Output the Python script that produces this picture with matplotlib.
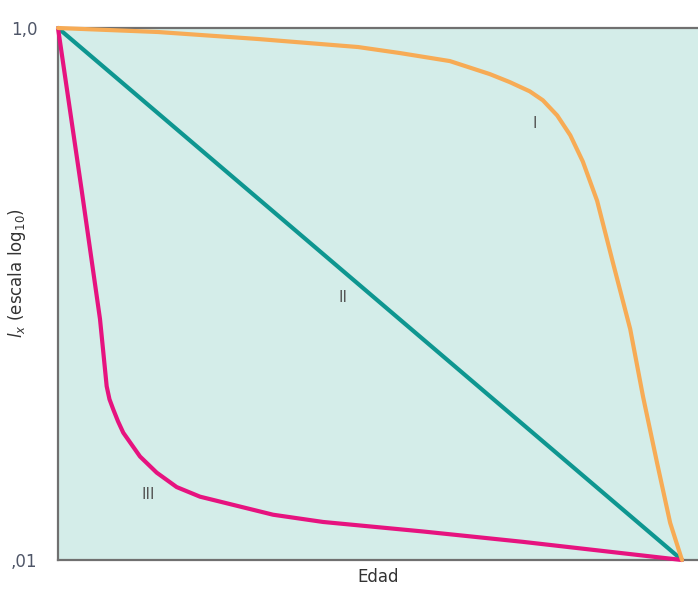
import matplotlib
matplotlib.use("Agg")
import matplotlib.pyplot as plt

# Data (age as % of max lifespan, lx on log scale)
age_I = [0, 16.0, 32.1, 48.1, 54.8, 62.8, 69.2, 72.4, 75.6, 77.7, 80.0, 82.1, 84.1, 86.4, 88.9, 91.7, 93.75, 96.0, 98.1, 100]
lx_I = [1.0, 0.966, 0.909, 0.848, 0.805, 0.751, 0.671, 0.626, 0.578, 0.535, 0.469, 0.395, 0.315, 0.224, 0.132, 0.0738, 0.0412, 0.0232, 0.0138, 0.01]

age_II = [0, 100]
lx_II = [1.0, 0.01]

age_III = [0, 3.80, 6.73, 7.26, 7.80, 8.25, 8.86, 9.62, 10.46, 13.14, 15.82, 19.02, 22.76, 34.46, 42.47, 58.49, 74.52, 90.54, 100]
lx_III = [1.0, 0.245, 0.0805, 0.0604, 0.0450, 0.0402, 0.0368, 0.0332, 0.0301, 0.0245, 0.0213, 0.0188, 0.0173, 0.0148, 0.0139, 0.0128, 0.0117, 0.0106, 0.01]

labels = ["I", "II", "III"]
label_pos = [(76.4, 0.438), (45.7, 0.0974), (14.4, 0.0176)]
yticks = [0.01, 1.0]
yticklabels = [",01", "1,0"]

fig = plt.figure(figsize=(6.98, 5.93), dpi=100)
ax = fig.add_axes([58/698, 1-560/593, 1-58/698, (560-28)/593])
ax.set_facecolor("#d4ede9")

kw = dict(lw=3.0, solid_joinstyle="round", solid_capstyle="round", zorder=3, clip_on=False)
ax.plot(age_II, lx_II, color="#0e9690", **kw)
ax.plot(age_III, lx_III, color="#e6137f", **kw)
ax.plot(age_I, lx_I, color="#f7ab55", **kw)

ax.set_yscale("log")
ax.set_ylim(0.01, 1.0)
ax.set_xlim(0, 100 / 0.975)
ax.set_yticks(yticks)
ax.set_yticklabels(yticklabels)
ax.yaxis.set_minor_locator(matplotlib.ticker.NullLocator())
ax.set_xticks([])
ax.tick_params(axis="y", length=0, pad=15, labelsize=12, labelcolor="#4f5668")

ax.spines["right"].set_visible(False)
for s in ["left", "bottom", "top"]:
    ax.spines[s].set_color("#707070")
    ax.spines[s].set_linewidth(1.6)
    ax.spines[s].set_zorder(2.5)

for lab, (x, y) in zip(labels, label_pos):
    ax.text(x, y, lab, ha="center", va="center", fontsize=11, color="#555555", zorder=4)

ax.set_xlabel("Edad", fontsize=12, color="#333333", labelpad=6)
ax.set_ylabel(r"$\mathit{l}_x$ (escala log$_{10}$)", fontsize=12, color="#333333")
ax.yaxis.set_label_coords(-0.047, 0.54)

fig.savefig("out.png", dpi=100)
